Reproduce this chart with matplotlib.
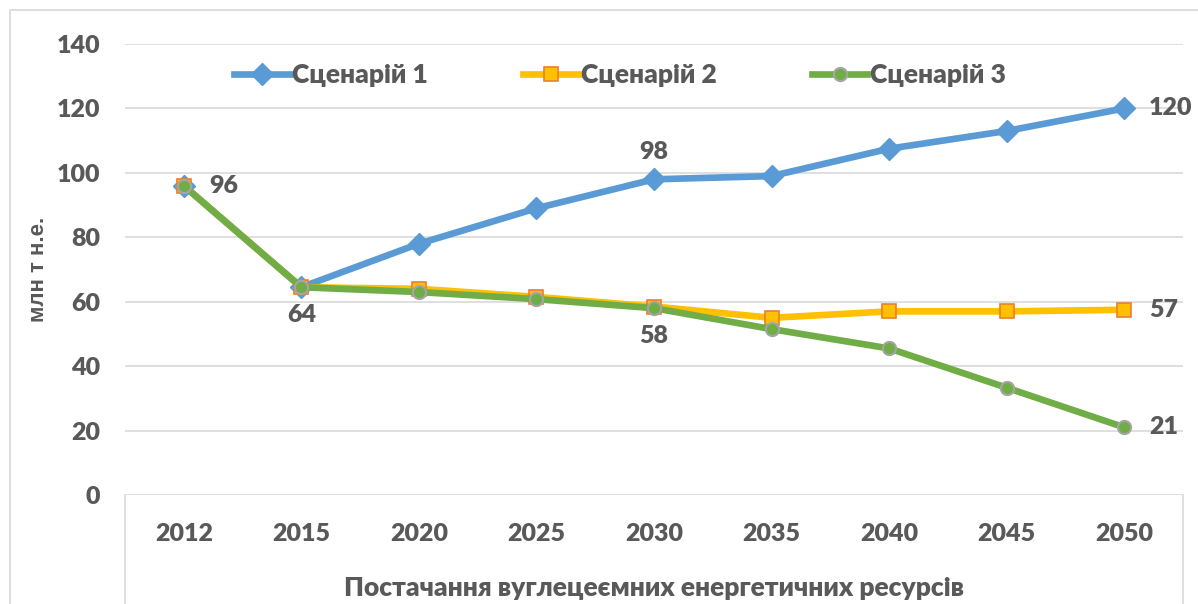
import matplotlib.pyplot as plt
from matplotlib.patches import Rectangle
from matplotlib.lines import Line2D

plt.rcParams['font.family'] = ['Lato', 'DejaVu Sans']

years = ['2012', '2015', '2020', '2025', '2030', '2035', '2040', '2045', '2050']
scen1 = [96, 64.5, 78, 89, 98, 99, 107.5, 113, 120]
scen2 = [96, 64.5, 64, 61.5, 58.5, 55, 57, 57, 57.5]
scen3 = [96, 64.5, 63, 60.8, 58, 51.5, 45.5, 33.3, 21]
names = ['Сценарій 1', 'Сценарій 2', 'Сценарій 3']

# data labels: (series, index, text)
labels = [(3, 0, '96'), (3, 1, '64'), (1, 4, '98'), (3, 4, '58'),
          (1, 8, '120'), (2, 8, '57'), (3, 8, '21')]

grey = '#595959'
W = 'heavy'
fig = plt.figure(figsize=(11.98, 6.04), dpi=100)
ax = fig.add_axes([125 / 1198, 1 - 495 / 604, 1058 / 1198, 451 / 604])

# chart frame
fig.patches.append(Rectangle((10 / 1198, -0.1), 1.2, 1.1 - 10 / 604,
                             transform=fig.transFigure, fill=False,
                             edgecolor='#D9D9D9', lw=1.2, zorder=0))

x = list(range(len(years)))
ax.plot(x, scen1, color='#5B9BD5', lw=4.8, marker='D', ms=11,
        mfc='#5B9BD5', mec='#5B9BD5', label=names[0], zorder=3)
ax.plot(x, scen2, color='#FFC000', lw=4.8, marker='s', ms=10,
        mfc='#FFC000', mec='#ED7D31', mew=1.2, label=names[1], zorder=4)
ax.plot(x, scen3, color='#70AD47', lw=4.8, marker='o', ms=9.5,
        mfc='#70AD47', mec='#A5A5A5', mew=1.5, label=names[2], zorder=5)

series = {1: scen1, 2: scen2, 3: scen3}
for s, i, t in labels:
    v = series[s][i]
    if i == 0 or i == len(years) - 1:
        off, ha, va = (18, 0), 'left', 'center'
    elif s == 1:
        off, ha, va = (0, 12), 'center', 'bottom'
    else:
        off, ha, va = (0, -12), 'center', 'top'
    ax.annotate(t, (i, v), xytext=off, textcoords='offset points',
                ha=ha, va=va, fontsize=18, fontweight=W, color=grey)

ax.set_xlim(-0.5, len(years) - 0.5)
ax.set_ylim(0, 140)
ax.set_yticks(range(0, 141, 20))
ax.set_xticks(x)
ax.set_xticklabels(years)
ax.grid(axis='y', color='#D9D9D9', lw=1.2)
ax.set_axisbelow(True)
for sp in ax.spines.values():
    sp.set_visible(False)
ax.tick_params(length=0, labelsize=18, labelcolor=grey)
ax.tick_params(axis='y', pad=18)
ax.tick_params(axis='x', pad=20)
for lab in ax.get_xticklabels() + ax.get_yticklabels():
    lab.set_fontweight(W)

# box below the category axis
for xa in (0, 1):
    ax.add_line(Line2D([xa, xa], [0, -0.3], transform=ax.transAxes,
                       color='#D9D9D9', lw=1.2, clip_on=False))

ax.set_ylabel('млн т н.е.', fontsize=16, fontweight='bold', color=grey,
              family=['Liberation Sans', 'DejaVu Sans'])
ax.yaxis.set_label_coords(-0.072, 0.5)
ax.set_xlabel('Постачання вуглецеємних енергетичних ресурсів', fontsize=19,
              fontweight=W, color=grey)
ax.xaxis.set_label_coords(0.5, -0.18)

leg = ax.legend(loc='center', bbox_to_anchor=(620 / 1198, 1 - 75 / 604),
                bbox_transform=fig.transFigure, ncol=3, frameon=False,
                fontsize=19, handlelength=2.1, columnspacing=3.6,
                handletextpad=0.1)
for t in leg.get_texts():
    t.set_color(grey)
    t.set_fontweight(W)

fig.savefig('out.png', dpi=100)
